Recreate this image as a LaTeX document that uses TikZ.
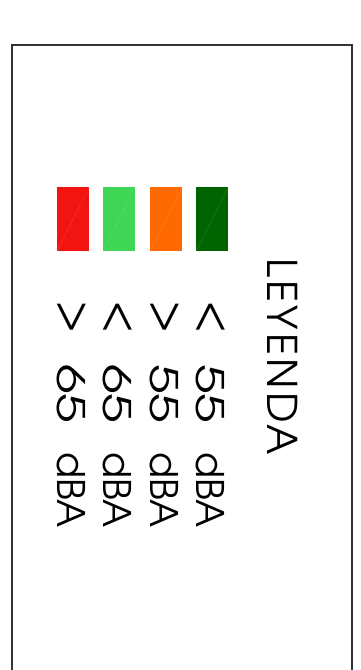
\documentclass[tikz,border=0pt]{standalone}
\usepackage{fontspec}
\IfFontExistsTF{TeX Gyre Adventor}{\setmainfont{TeX Gyre Adventor}}{\setmainfont{Poppins}}
\definecolor{rojo}{HTML}{F21410}
\definecolor{verdeclaro}{HTML}{3FD655}
\definecolor{naranja}{HTML}{FF6A00}
\definecolor{verdeoscuro}{HTML}{006400}
\begin{document}
\begin{tikzpicture}[x=1pt,y=-1pt,
	muestra/.style={draw=none,minimum width=32pt,minimum height=64pt,inner sep=0pt,anchor=north west},
	texto/.style={rotate=-90,anchor=base west,inner sep=0pt,font=\fontsize{38}{38}\selectfont}]
	\def\HuEcoA{31pt}%espacio tras el signo
	\def\HuEcoB{29pt}%espacio antes de dBA
	\useasboundingbox (0,0) rectangle (360,670);
	\draw[line width=1.5pt,draw=black!80] (12,700)--(12,45)--(352,45)--(352,700);%marco
	\node[texto,font=\addfontfeatures{LetterSpace=8}\fontsize{41}{41}\selectfont] (titulo) at (267,258) {LEYENDA};
	\foreach \col/\x/\sig/\num [count=\i] in {rojo/57/>/65,verdeclaro/103/</65,naranja/150/>/55,verdeoscuro/196/</55}{
		\node[muestra,fill=\col] (m\i) at (\x,187) {};
		\draw[white,opacity=.15] (m\i.south west)--(m\i.north east);
		\node[texto] (t\i) at (\x,300) {\raisebox{4pt}{\scalebox{1.2}[1.08]{\sig}}\hspace{\HuEcoA}\scalebox{1.4}[1]{\num}\hspace{\HuEcoB}dBA};
	}
\end{tikzpicture}
\end{document}
